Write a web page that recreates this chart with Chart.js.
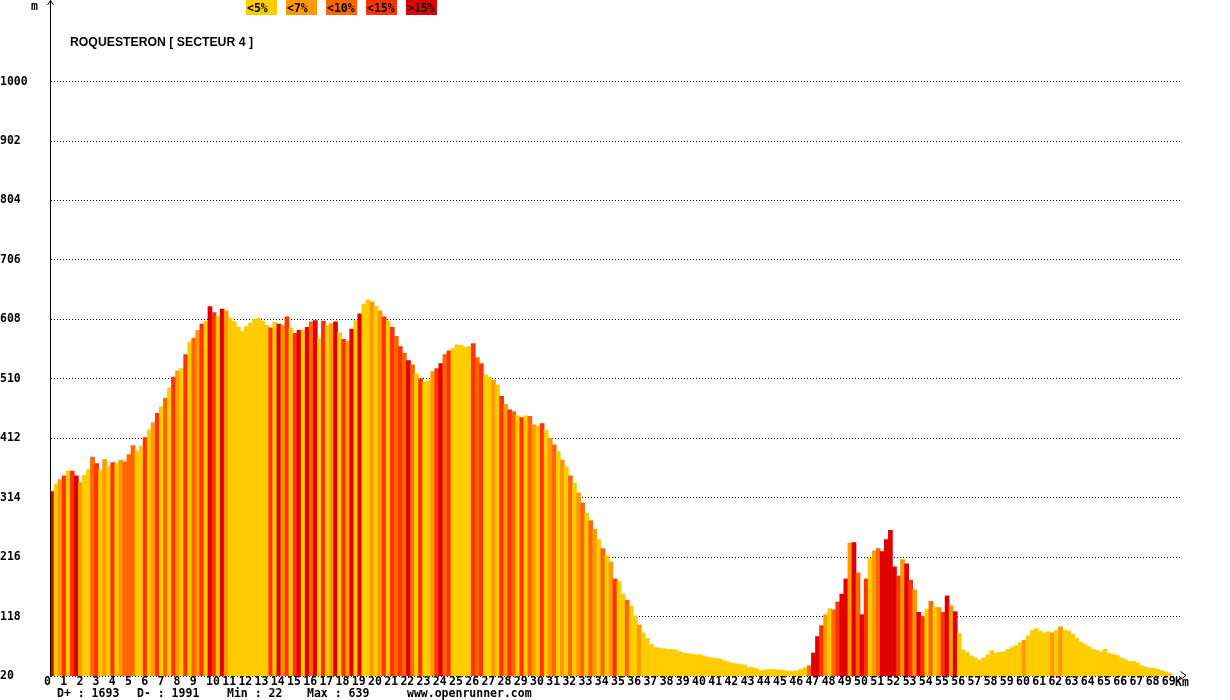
<!DOCTYPE html>
<html>
<head>
<meta charset="utf-8">
<script src="https://cdn.jsdelivr.net/npm/chart.js@4/dist/chart.umd.min.js"></script>
<style>
html, body { margin: 0; padding: 0; background: #fff; }
#wrap { width: 1230px; height: 700px; }
</style>
</head>
<body>
<div id="wrap"><canvas id="profil" width="1230" height="700"></canvas></div>
<script>
// profile sampled every 250 m, altitude in metres
var STEP = 0.25;
var altitudes = [
    324,336,344,350, 358,358,350,339, 351,360,381,370, 360,377,366,372, 370,376,373,385,
    400,391,399,413, 426,438,453,464, 478,495,513,523, 527,550,571,577, 590,600,605,629,
    619,612,625,622, 610,604,595,588, 596,602,608,610, 605,598,594,603, 600,598,612,594,
    585,590,590,595, 604,606,576,605, 598,601,604,586, 575,572,592,606, 617,633,640,637,
    630,622,612,605, 595,580,563,552, 540,533,518,510, 505,507,522,527, 535,550,556,560,
    566,565,562,563, 568,545,535,517, 513,508,500,481, 468,459,456,449, 446,449,448,434,
    432,436,425,412, 401,390,376,365, 350,338,322,305, 288,276,262,245, 230,218,208,180,
    176,155,145,135, 119,104,91,82, 72,67,66,65, 64,64,63,60, 58,57,56,55,
    55,53,51,50, 49,48,45,43, 41,40,39,38, 34,34,32,29, 30,31,31,30,
    30,29,28,28, 29,31,34,37, 58,85,103,121, 131,129,142,155, 180,239,240,190,
    121,180,214,226, 230,225,245,260, 200,185,212,205, 178,162,125,118, 130,143,134,133,
    125,152,136,126, 90,63,59,53, 50,46,50,55, 62,58,59,60, 64,67,70,75,
    79,86,95,98, 94,91,93,91, 95,101,96,94, 89,82,76,72, 68,64,62,60,
    64,57,56,54, 50,47,44,44, 42,37,35,33, 33,31,29,27, 25
];
// gradient class of each sample : 0 <5%, 1 <7%, 2 <10%, 3 <15%, 4 >15%
var pente = [
    4,0,1,3, 0,3,4,1, 0,0,2,3, 0,1,0,3, 0,1,2,2,
    2,0,0,3, 0,1,3,0, 2,0,3,1, 0,3,0,2, 1,3,0,4,
    3,0,4,1, 0,0,0,0, 0,0,0,0, 0,0,3,0, 4,1,3,0,
    3,4,0,4, 2,4,0,3, 0,1,4,0, 3,1,4,0, 4,0,0,1,
    0,1,3,0, 3,2,3,2, 4,2,0,3, 0,0,1,3, 4,2,3,0,
    0,0,0,0, 3,2,3,0, 0,1,0,3, 1,3,2,0, 3,0,2,1,
    0,3,0,1, 2,0,1,0, 2,0,1,2, 0,2,1,0, 2,0,1,3,
    0,0,2,0, 0,1,0,0, 0,0,0,0, 0,0,0,0, 0,0,0,0,
    0,0,0,0, 0,0,0,0, 0,0,0,0, 0,0,0,0, 0,0,0,0,
    0,0,0,0, 0,0,0,2, 4,4,3,1, 0,2,3,4, 4,1,4,2,
    4,3,0,1, 2,4,4,4, 4,3,1,4, 3,1,4,3, 0,2,0,1,
    3,4,1,4, 0,0,0,0, 0,0,0,0, 0,0,0,0, 0,0,0,0,
    1,0,0,0, 0,0,0,1, 0,1,0,0, 0,0,0,0, 0,0,0,0,
    0,0,0,0, 0,0,0,0, 0,0,0,0, 0,0,0,0, 0
];
var penteLabels = ['<5%', '<7%', '<10%', '<15%', '>15%'];
var penteColors = ['#ffcc00', '#ff9900', '#ff6600', '#ff3300', '#e00000'];
var yTicks = [20, 118, 216, 314, 412, 510, 608, 706, 804, 902, 1000];
var kmTicks = [0,1,2,3,4,5,6,7,8,9,10,11,12,13,14,15,16,17,18,19,20,21,22,23,24,25,26,27,28,29,
    30,31,32,33,34,35,36,37,38,39,40,41,42,43,44,45,46,47,48,49,50,51,52,53,54,55,56,57,58,59,
    60,61,62,63,64,65,66,67,68,69];
var titre = 'ROQUESTERON [ SECTEUR 4 ]';
var dPlus = 1693, dMoins = 1991, altMin = 22, altMax = 639;
var site = 'www.openrunner.com';

var MONO = 'bold 11.5px "DejaVu Sans Mono"';

var points = [];
var couleurs = [];
for (var i = 0; i < altitudes.length; i++) {
    points.push({x: (i + 0.5) * STEP, y: altitudes[i]});
    couleurs.push(penteColors[pente[i]]);
}

var decor = {
    id: 'decor',
    afterDraw: function(chart) {
        var ctx = chart.ctx, a = chart.chartArea;
        var ax = a.left + 0.5;
        ctx.save();
        ctx.strokeStyle = '#000';
        ctx.lineWidth = 1;
        ctx.beginPath();
        ctx.moveTo(ax, 0);
        ctx.lineTo(ax, a.bottom);
        ctx.moveTo(ax - 3, 5);
        ctx.lineTo(ax, 0.5);
        ctx.lineTo(ax + 3, 5);
        ctx.moveTo(a.right + 0.5, a.bottom - 4.5);
        ctx.lineTo(a.right + 6, a.bottom - 0.5);
        ctx.lineTo(a.right + 0.5, a.bottom + 3.5);
        ctx.stroke();

        ctx.fillStyle = '#000';
        ctx.font = MONO;
        ctx.textBaseline = 'alphabetic';
        ctx.textAlign = 'left';
        ctx.fillText('m', 31, 10);
        ctx.fillText('Km', 1175, 686);

        // legend
        for (var k = 0; k < penteLabels.length; k++) {
            var bx = 246 + 40 * k;
            ctx.fillStyle = penteColors[k];
            ctx.fillRect(bx, 0, 31, 15);
            ctx.fillStyle = '#000';
            ctx.fillText(penteLabels[k], bx + 1, 12);
        }

        // stats line
        ctx.fillText('D+ : ' + dPlus, 57, 697);
        ctx.fillText('D- : ' + dMoins, 137, 697);
        ctx.fillText('Min : ' + altMin, 227, 697);
        ctx.fillText('Max : ' + altMax, 307, 697);
        ctx.fillText(site, 407, 697);

        // title
        ctx.font = 'bold 13px "Liberation Sans"';
        var w = ctx.measureText(titre).width;
        ctx.translate(70, 46);
        ctx.scale(183 / w, 1);
        ctx.fillText(titre, 0, 0);
        ctx.restore();
    }
};

var ctx = document.getElementById('profil').getContext('2d');
var profil = new Chart(ctx, {
    type: 'bar',
    data: {
        datasets: [{
            data: points,
            backgroundColor: couleurs,
            borderWidth: 0,
            barPercentage: 1,
            categoryPercentage: 1
        }]
    },
    options: {
        responsive: false,
        animation: false,
        devicePixelRatio: 1,
        layout: { padding: { top: 10, right: 50, bottom: 0, left: 0 } },
        plugins: { legend: { display: false }, tooltip: { enabled: false } },
        scales: {
            x: {
                type: 'linear',
                min: 0,
                max: 69.75,
                offset: false,
                grid: { display: false, drawTicks: false, offset: false },
                border: { display: false },
                afterBuildTicks: function(scale) {
                    scale.ticks = kmTicks.map(function(v) { return {value: v}; });
                },
                afterFit: function(scale) { scale.height = 24; },
                ticks: {
                    autoSkip: false,
                    maxRotation: 0,
                    minRotation: 0,
                    align: 'start',
                    labelOffset: -6,
                    padding: 0,
                    color: '#000',
                    callback: function(v) { return String(v); },
                    font: { family: 'DejaVu Sans Mono', size: 11.5, weight: 'bold', lineHeight: 1 }
                }
            },
            y: {
                type: 'linear',
                min: 20,
                max: 1118,
                beginAtZero: false,
                grid: { color: '#000', lineWidth: 1, drawTicks: false },
                border: { display: true, color: '#000', width: 1, dash: [1, 2] },
                afterBuildTicks: function(scale) {
                    scale.ticks = yTicks.map(function(v) { return {value: v}; });
                },
                afterFit: function(scale) { scale.width = 50; },
                ticks: {
                    crossAlign: 'far',
                    padding: 0,
                    color: '#000',
                    callback: function(v) { return String(v); },
                    font: { family: 'DejaVu Sans Mono', size: 11.5, weight: 'bold', lineHeight: 1 }
                }
            }
        }
    },
    plugins: [decor]
});
</script>
</body>
</html>
